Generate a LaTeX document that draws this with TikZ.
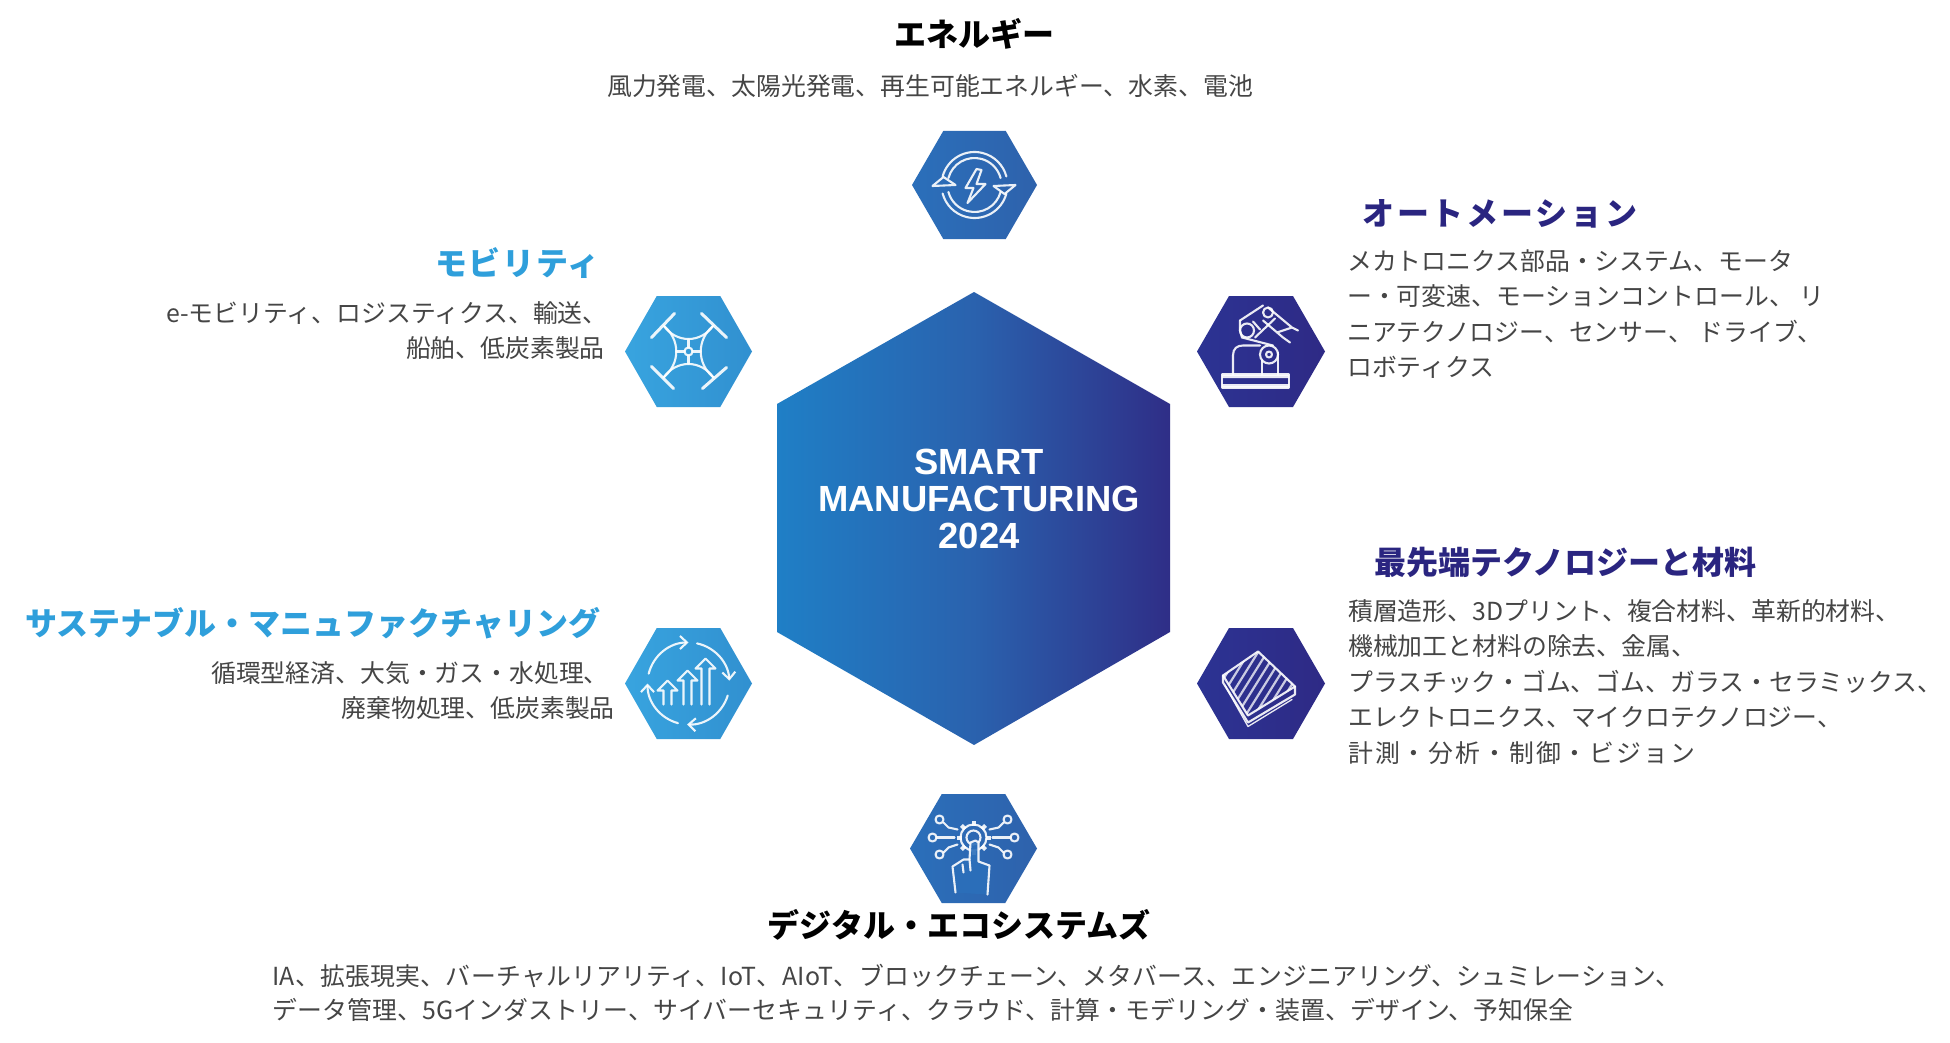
\documentclass[tikz,border=0pt]{standalone}
\usepackage{fontspec}
\setmainfont{Noto Sans CJK JP}
\newfontfamily\latinbold{Liberation Sans}[BoldFont={Liberation Sans Bold}]
\usetikzlibrary{calc,arrows.meta}
\definecolor{navy}{HTML}{2A2580}
\definecolor{sky}{HTML}{2F9FDB}
\definecolor{bodygray}{HTML}{454545}
\definecolor{midA}{HTML}{2B6FBA}
\definecolor{midB}{HTML}{2E62AC}
\definecolor{skyA}{HTML}{38A4DF}
\definecolor{skyB}{HTML}{3190D0}
\definecolor{deepA}{HTML}{2C3393}
\definecolor{deepB}{HTML}{2E2A85}
\definecolor{coreA}{HTML}{1F7FC6}
\definecolor{coreB}{HTML}{2A62AE}
\definecolor{coreC}{HTML}{2F2E87}
\tikzset{
  bodytext/.style={inner sep=0pt,text=bodygray,font=\fontsize{24.85}{30}\selectfont,text height=21.8pt,text depth=3pt},
  titletext/.style={inner sep=0pt,font=\fontsize{32}{38}\selectfont\bfseries,text height=28.2pt,text depth=3.8pt},
  iconline/.style={draw=white,line width=2.1pt,line cap=round,line join=round,opacity=.9},
}
\newcommand\hexa[6]{%
  \shade[left color=#5,right color=#6]
    ({#1-#3},{#2}) -- ({#1-#3/2},{#2-#4}) -- ({#1+#3/2},{#2-#4}) -- ({#1+#3},{#2}) -- ({#1+#3/2},{#2+#4}) -- ({#1-#3/2},{#2+#4}) -- cycle;}
\begin{document}
\begin{tikzpicture}[x=1pt,y=-1pt]
\useasboundingbox (0,0) rectangle (1950,1043);
\fill[white] (0,0) rectangle (1950,1043);

% central hexagon
\shade[left color=coreA,right color=coreC,middle color=coreB]
  (974,292) -- (1170,404) -- (1170,632) -- (974,745) -- (777,632) -- (777,404) -- cycle;
\node[inner sep=0pt,text=white,align=center,font=\latinbold\fontsize{36.4}{37.3}\selectfont\bfseries] (centre) at (979,499) {SMART\\MANUFACTURING\\2024};

% small hexagons
\hexa{974.5}{185}{62.5}{54}{midA}{midB}
\hexa{688.5}{351.5}{63.5}{55.5}{skyA}{skyB}
\hexa{1261}{351.5}{64}{55.5}{deepA}{deepB}
\hexa{688.5}{683.5}{63.5}{55.5}{skyA}{skyB}
\hexa{1261}{683.5}{64}{55.5}{deepA}{deepB}
\hexa{973.5}{848.5}{63.5}{54.5}{midA}{midB}

% energy icon
\begin{scope}[shift={(974.5,185)},iconline]
  \draw (2,-16) -- (-9,3) -- (-1,3) -- (-7,18) -- (11,-1) -- (2,-1) -- (7,-15) -- cycle;
  \foreach \r in {27,33}{
    \draw (195:\r) arc[start angle=195,end angle=345,radius=\r];
    \draw (15:\r) arc[start angle=15,end angle=165,radius=\r];
  }
  \draw (19,1) -- (41,0) -- (30,9) -- cycle;
  \draw (-42,1) -- (-19,0) -- (-31,-8) -- cycle;
\end{scope}

% drone icon
\begin{scope}[shift={(688.5,351.5)},iconline]
  \draw[line width=3pt] (-37,-14) -- (-14,-38) (13,-38) -- (38,-14) (-37,15) -- (-15,37) (14,37) -- (38,16);
  \draw (-25,-26) .. controls (-12,-8) and (12,-8) .. (25,-26);
  \draw (-25,26) .. controls (-12,8) and (12,8) .. (25,26);
  \draw (-25,-26) .. controls (-8,-12) and (-8,12) .. (-25,26);
  \draw (25,-26) .. controls (8,-12) and (8,12) .. (25,26);
  \draw (0,0) circle (4);
  \draw (0,-12) -- (0,-4) (0,12) -- (0,4) (-12,0) -- (-4,0) (12,0) -- (4,0);
\end{scope}

% robot icon
\begin{scope}[shift={(1261,351.5)},iconline]
  \draw (-39,23) rectangle (28,36);
  \fill[white,draw=none] (-39,23) rectangle (28,26.5) (-39,32.5) rectangle (28,36);
  \draw (-28,23) -- (-28,4) .. controls (-28,-3) and (-24,-6) .. (-18,-6) -- (-1,-6);
  \draw (1,23) -- (1,9) (17,23) -- (17,1);
  \draw (8,3) circle (9) (8,3) circle (3);
  \draw (-14,-21) circle (7) (7,-39) circle (5);
  \draw (-21,-31) -- (2,-46) (-6,-14) -- (14,-33);
  \draw (7,-44) -- (31,-24) -- (37,-21) (2,-31) -- (22,-14) -- (29,-9) (16,-19) -- (31,-24);
  \draw (-21,-31) -- (-21,-21) -- (-19,-14) -- (12,-6);
  \draw (-8,-30) -- (-1,-22);
\end{scope}

% sustainable icon
\begin{scope}[shift={(688.5,683.5)},iconline]
  \foreach \a/\b in {194/270,282/356,17/92,105/180}
    \draw[-{Straight Barb[length=7pt,width=13pt]}] (\a:41) arc[start angle=\a,end angle=\b,radius=41];
  \foreach \x/\t in {-21/-3,-1/-13,17/-25}
    \draw (\x-4,21) -- (\x-4,\t+10) -- (\x-10,\t+10) -- (\x,\t) -- (\x+10,\t+10) -- (\x+4,\t+10) -- (\x+4,21);
\end{scope}

% materials icon
\begin{scope}[shift={(1261,683.5)},iconline]
  \begin{scope}
    \clip (-38,-8) -- (-3,-32) -- (34,3) -- (-13,32) -- cycle;
    \foreach \x in {-18,-9,...,72}
      \draw[line width=2.2pt,opacity=.75] (\x,-36) -- ({\x-45},36);
  \end{scope}
  \draw (-38,-8) -- (-3,-32) -- (34,3) -- (-13,32) -- cycle;
  \draw (-38,-8) -- (-38,-1) -- (-13,39) -- (34,11) -- (34,3);
  \draw[line width=1.3pt] (-36,2) -- (-13,43) -- (31,16);
\end{scope}

% digital icon
\begin{scope}[shift={(973.5,848.5)},iconline]
  \foreach \a in {0,45,...,315}
    \draw[line width=4pt,line cap=butt] ($(0,-11)+(\a:12)$) -- ($(0,-11)+(\a:17)$);
  \draw (0,-11) circle (13) (0,-11) circle (7);
  \foreach \s in {-1,1}{
    \draw ({\s*19},-11) -- ({\s*37},-11);
    \draw ({\s*41},-11) circle (4);
    \draw ({\s*16},-19) -- ({\s*25},-21) -- ({\s*30},-26);
    \draw ({\s*34},-29) circle (4);
    \draw ({\s*16},-4) -- ({\s*25},-1) -- ({\s*30},4);
    \draw ({\s*34},6) circle (4);
  }
  \path[fill=midA,draw=white,line width=2.1pt] (-18,44) -- (-21,18) -- (-10,11) -- (-4,11) -- (-3,-6) -- (2,-8) -- (5,-6) -- (5,13) -- (16,17) -- (14,46);
  \draw (-11,16) -- (-10,24) (-4,11) -- (-3,22);
\end{scope}

% energy
\node[titletext,text=black,anchor=center] (t1) at (974,34) {エネルギー};
\node[bodytext,anchor=west] (b1) at (607,86) {風力発電、太陽光発電、再生可能エネルギー、水素、電池};

% automation
\node[titletext,text=navy,anchor=west] (t2) at (1362,213) {\addfontfeature{LetterSpace=9}オートメーション};
\node[bodytext,anchor=west] (b2a) at (1347,261) {メカトロニクス部品・システム、モータ};
\node[bodytext,anchor=west] (b2b) at (1347,296) {ー・可変速、モーションコントロール、 リ};
\node[bodytext,anchor=west] (b2c) at (1347,332) {ニアテクノロジー、センサー、 ドライブ、};
\node[bodytext,anchor=west] (b2d) at (1347,367) {ロボティクス};

% advanced tech
\node[titletext,text=navy,anchor=west] (t3) at (1374,562) {最先端テクノロジーと材料};
\node[bodytext,anchor=west] (b3a) at (1348,611) {積層造形、3Dプリント、複合材料、革新的材料、};
\node[bodytext,anchor=west] (b3b) at (1348,646) {機械加工と材料の除去、金属、};
\node[bodytext,anchor=west] (b3c) at (1348,682) {プラスチック・ゴム、ゴム、ガラス・セラミックス、};
\node[bodytext,anchor=west] (b3d) at (1348,717) {エレクトロニクス、マイクロテクノロジー、};
\node[bodytext,anchor=west] (b3e) at (1348,753) {\addfontfeature{LetterSpace=8}計測・分析・制御・ビジョン};

% mobility
\node[titletext,text=sky,anchor=east] (t4) at (600,263) {\addfontfeature{LetterSpace=5}モビリティ};
\node[bodytext,anchor=west] (b4a) at (166,313) {e-モビリティ、ロジスティクス、輸送、};
\node[bodytext,anchor=east] (b4b) at (605,348) {船舶、低炭素製品};

% sustainable
\node[titletext,text=sky,anchor=west] (t5) at (25,623) {サステナブル・マニュファクチャリング};
\node[bodytext,anchor=west] (b5a) at (211,673) {循環型経済、大気・ガス・水処理、};
\node[bodytext,anchor=east] (b5b) at (615,708) {廃棄物処理、低炭素製品};

% digital
\node[titletext,text=black,anchor=center] (t6) at (959,925) {デジタル・エコシステムズ};
\node[bodytext,anchor=west] (b6a) at (272,976) {\addfontfeature{LetterSpace=1.1}IA、拡張現実、バーチャルリアリティ、IoT、AIoT、ブロックチェーン、メタバース、エンジニアリング、シュミレーション、};
\node[bodytext,anchor=west] (b6b) at (272,1010) {\addfontfeature{LetterSpace=.6}データ管理、5Gインダストリー、サイバーセキュリティ、クラウド、計算・モデリング・装置、デザイン、予知保全};
\end{tikzpicture}
\end{document}
